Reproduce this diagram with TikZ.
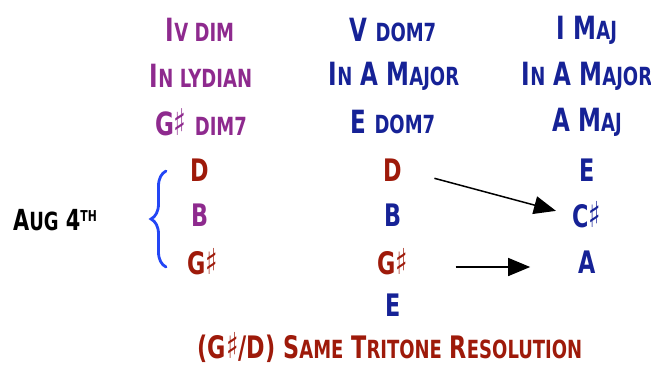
\documentclass[tikz,border=0pt]{standalone}
\usepackage{fontspec}
\usetikzlibrary{arrows.meta,decorations.pathreplacing}
\newfontfamily\hand{DejaVu Sans Bold}[FakeStretch=0.72]
\definecolor{lydpurple}{RGB}{142,42,142}
\definecolor{majblue}{RGB}{22,34,150}
\definecolor{tritred}{RGB}{158,26,10}
\definecolor{braceblue}{RGB}{35,70,245}
\newcommand\lo[1]{{\fontsize{25}{27}\selectfont\MakeUppercase{#1}}}
\newcommand\sh{\scalebox{1.15}{♯}}
\tikzset{
  chord/.style={font=\hand\fontsize{32}{34}\selectfont, inner sep=1pt},
  note/.style={font=\hand\fontsize{31}{33}\selectfont, inner sep=1pt},
  lyd/.style={text=lydpurple},
  maj/.style={text=majblue},
  trit/.style={text=tritred},
  resarrow/.style={-{Triangle[length=22pt,width=18pt]}, line width=1.5pt},
}
\begin{document}
\begin{tikzpicture}[x=1pt,y=-1pt]
\useasboundingbox (0,0) rectangle (651,368);
% chord names
\node[chord,lyd] (ivdim) at (200,30) {I\lo{v dim}};
\node[chord,lyd] (inlyd) at (201,76) {I\lo{n lydian}};
\node[chord,lyd] (gdim) at (201,122) {G\sh\ \lo{dim7}};
\node[chord,maj] (vdom) at (393,30) {V \lo{dom7}};
\node[chord,maj] (inmaj) at (394,76) {I\lo{n} A M\lo{ajor}};
\node[chord,maj] (edom) at (393,122) {E \lo{dom7}};
\node[chord,maj] (imaj) at (587,30) {I M\lo{aj}};
\node[chord,maj] (inmajb) at (587,76) {I\lo{n} A M\lo{ajor}};
\node[chord,maj] (amaj) at (587,122) {A M\lo{aj}};
% notes
\node[note,trit] (d1) at (200,170) {D};
\node[note,lyd] (b1) at (200,215) {B};
\node[note,trit] (g1) at (203,262) {G\sh};
\node[note,trit] (d2) at (393,170) {D};
\node[note,maj] (b2) at (393,215) {B};
\node[note,trit] (g2) at (393,262) {G\sh};
\node[note,maj] (e2) at (393,305) {E};
\node[note,maj] (e3) at (587,170) {E};
\node[note,maj] (c3) at (587,215) {C\sh};
\node[note,maj] (a3) at (587,262) {A};
% brace and its label
\draw[braceblue, line width=2.8pt, line cap=round,
  decorate, decoration={brace, amplitude=15pt}] (166,267) -- (166,171);
\node[note, font=\hand\fontsize{29}{31}\selectfont] (aug) at (55,220)
  {A\lo{ug} 4\raisebox{9pt}{\fontsize{15}{16}\selectfont TH}};
% resolutions
\draw[resarrow, shorten <=32pt, shorten >=16pt] (d2.east) -- (c3.west);
\draw[resarrow, shorten <=46pt, shorten >=47pt] ([yshift=-5pt]g2.east) -- ([yshift=-5pt]a3.west);
\node[note,trit] (tritone) at (390,348) {(G\sh/D) S\lo{ame} T\lo{ritone} R\lo{esolution}};
\end{tikzpicture}
\end{document}
